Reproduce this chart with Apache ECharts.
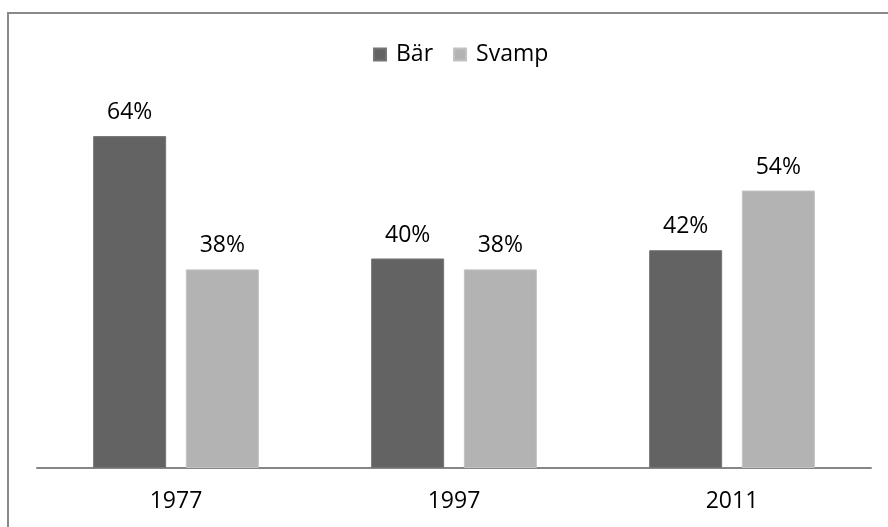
<!DOCTYPE html>
<html>
<head>
<meta charset="utf-8">
<script src="https://cdn.jsdelivr.net/npm/echarts@6/dist/echarts.min.js"></script>
<style>
html,body{margin:0;padding:0;background:#fff;}
#c{width:888px;height:527px;}
</style>
</head>
<body>
<div id="c"></div>
<script>
const categories = ['1977', '1997', '2011'];
const seriesNames = ['Bär', 'Svamp'];
const barValues = [0.64, 0.404, 0.42];
const svampValues = [0.383, 0.383, 0.535];

const font = 'Open Sans';
const chart = echarts.init(document.getElementById('c'));
const labelCfg = {
  show: true,
  position: 'top',
  distance: 12,
  fontFamily: font,
  fontSize: 23,
  color: '#000',
  formatter: p => Math.round(p.value * 100) + '%'
};
chart.setOption({
  animation: false,
  backgroundColor: '#fff',
  graphic: [{
    type: 'rect',
    shape: { x: 8, y: 13, width: 1000, height: 700 },
    style: { fill: 'none', stroke: '#898989', lineWidth: 2 },
    silent: true
  }],
  legend: {
    data: seriesNames,
    left: 368,
    top: 38,
    icon: 'rect',
    itemWidth: 12,
    itemHeight: 12,
    itemGap: 20,
    textStyle: { fontFamily: font, fontSize: 23, color: '#000', padding: [0, 0, 0, 5] }
  },
  grid: { left: 37, right: 17, top: 105, bottom: 59, containLabel: false },
  xAxis: {
    type: 'category',
    data: categories,
    axisLine: { lineStyle: { color: '#868686', width: 2 } },
    axisTick: { show: false },
    axisLabel: { fontFamily: font, fontSize: 23, color: '#000', margin: 22 }
  },
  yAxis: {
    type: 'value',
    min: 0,
    max: 0.7,
    show: false,
    splitLine: { show: false }
  },
  series: [
    {
      name: seriesNames[0],
      type: 'bar',
      data: barValues,
      barWidth: 73,
      barGap: '27%',
      itemStyle: { color: '#636363', borderColor: '#747474', borderWidth: 1 },
      label: labelCfg
    },
    {
      name: seriesNames[1],
      type: 'bar',
      data: svampValues,
      barWidth: 73,
      itemStyle: { color: '#b3b3b3', borderColor: '#c2c2c2', borderWidth: 1 },
      label: labelCfg
    }
  ]
});
</script>
</body>
</html>
